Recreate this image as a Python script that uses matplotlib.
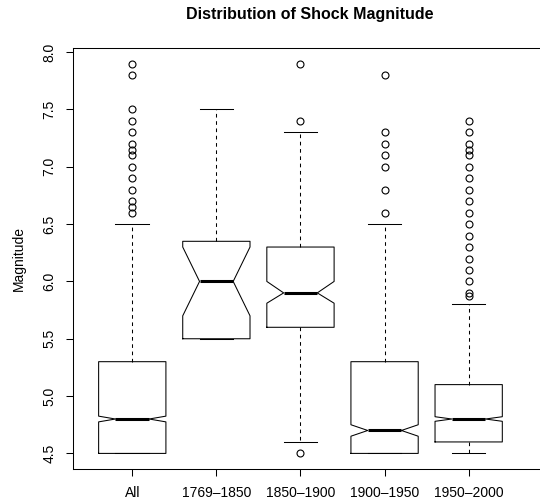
import matplotlib
matplotlib.use('Agg')
import matplotlib.pyplot as plt

plt.rcParams['font.family'] = ['Liberation Sans', 'DejaVu Sans']

labels = ['All', '1769–1850', '1850–1900', '1900–1950', '1950–2000']
q1 = [4.5, 5.5, 5.6, 4.5, 4.6]
med = [4.8, 6.0, 5.9, 4.7, 4.8]
q3 = [5.3, 6.35, 6.3, 5.3, 5.1]
whislo = [4.5, 5.5, 4.6, 4.5, 4.5]
whishi = [6.5, 7.5, 7.3, 6.5, 5.8]
cilo = [4.775, 5.7, 5.81, 4.65, 4.78]
cihi = [4.825, 6.3, 6.0, 4.75, 4.82]
fliers = [
    [7.9, 7.8, 7.5, 7.4, 7.3, 7.2, 7.15, 7.1, 7.0, 6.9, 6.8, 6.7, 6.65, 6.6],
    [],
    [7.9, 7.4, 4.5],
    [7.8, 7.3, 7.2, 7.1, 7.0, 6.8, 6.6],
    [7.4, 7.3, 7.2, 7.15, 7.1, 7.0, 6.9, 6.8, 6.7, 6.6, 6.5, 6.4, 6.3,
     6.2, 6.1, 6.0, 5.9, 5.87],
]

stats = []
for i in range(len(labels)):
    stats.append(dict(label=labels[i], q1=q1[i], med=med[i], q3=q3[i],
                      whislo=whislo[i], whishi=whishi[i],
                      cilo=cilo[i], cihi=cihi[i], fliers=fliers[i]))

fig = plt.figure(figsize=(5.4, 5.04), dpi=100)
ax = fig.add_axes([73.4 / 540, 1 - 469 / 504, (546 - 73.4) / 540, (469 - 48) / 504])

lw = 0.75
ax.bxp(stats, positions=range(1, 6), widths=0.8, shownotches=True,
       boxprops=dict(color='black', lw=lw),
       whiskerprops=dict(color='black', lw=lw, linestyle=(0, (3.5, 3.5))),
       capprops=dict(color='black', lw=lw),
       medianprops=dict(color='black', lw=2.2, solid_capstyle='butt'),
       flierprops=dict(marker='o', markersize=5, markerfacecolor='none',
                       markeredgecolor='black', markeredgewidth=0.8))

ax.set_xlim(0.3, 0.3 + (546 - 73.4) / 84.1)
ax.set_ylim(4.364, 8.036)
ax.set_yticks([4.5, 5.0, 5.5, 6.0, 6.5, 7.0, 7.5, 8.0])
ax.set_yticklabels(['4.5', '5.0', '5.5', '6.0', '6.5', '7.0', '7.5', '8.0'],
                   rotation=90, va='center')
ax.tick_params(axis='both', length=5, width=lw, labelsize=10, pad=7)
ax.tick_params(axis='x', pad=7)
for s in ax.spines.values():
    s.set_linewidth(lw)
ax.spines['right'].set_visible(False)

ax.set_ylabel('Magnitude', fontsize=10, labelpad=12)
fig.text(310 / 540, 1 - 15 / 504, 'Distribution of Shock Magnitude',
         ha='center', va='center', fontsize=11.5, fontweight='bold')

fig.savefig('out.png', dpi=100)
